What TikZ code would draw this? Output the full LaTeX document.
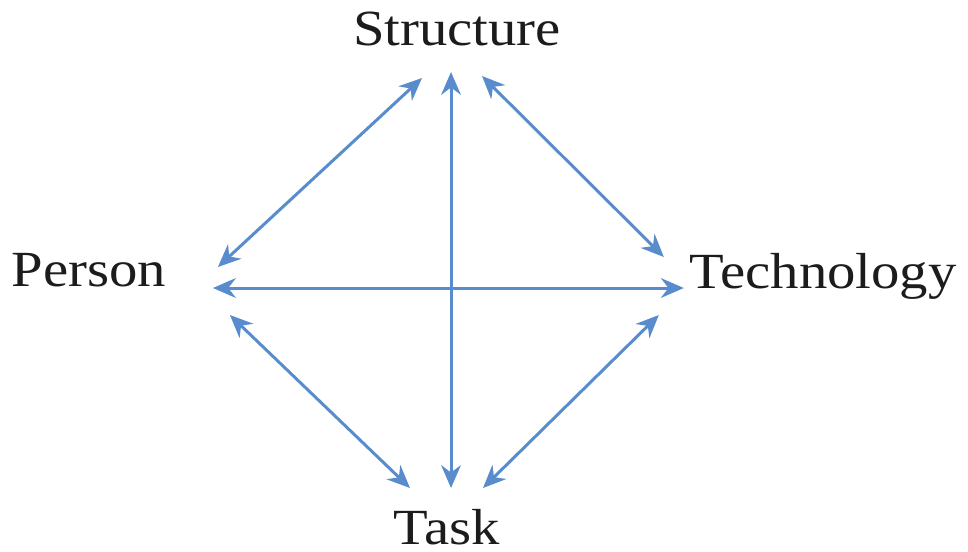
\documentclass[tikz,border=0pt]{standalone}
\usepackage{fontspec}
\setmainfont{Liberation Serif}[FakeStretch=1.12]
\usetikzlibrary{arrows.meta,calc,positioning}
\definecolor{linkblue}{RGB}{88,140,204}
\definecolor{labelgray}{RGB}{28,28,28}
\tikzset{
  label text/.style = {inner sep=0pt, anchor=base, text=labelgray,
                       font=\fontsize{14.4}{17}\selectfont},
  link/.style       = {{Stealth[length=6.5pt,width=5.6pt]}-{Stealth[length=6.5pt,width=5.6pt]},
                       line width=0.85pt, draw=linkblue},
}

\begin{document}
\begin{tikzpicture}[x=0.01cm,y=-0.01cm]
  \useasboundingbox (0,0) rectangle (968,551);

  % the four labels
  \node[label text] (structure)  at (457,45)  {Structure};
  \node[label text] (person)     at (89,286)  {Person};
  \node[label text] (technology) at (823,288) {Technology};
  \node[label text] (task)       at (447,544) {Task};

  % cross
  \draw[link] ($(structure.base)+(-6,27)$) -- ($(task.base)+(4,-56)$);
  \draw[link] ($(person.base east)+(46,2)$) -- ($(technology.base west)+(-5,0)$);

  % diamond
  \draw[link] ($(person.base east)+(51,-19)$) -- ($(structure.base)+(-35,33)$);
  \draw[link] ($(structure.base)+(25,31)$) -- ($(technology.base west)+(-25,-31)$);
  \draw[link] ($(person.base east)+(63,29)$) -- ($(task.base)+(-37,-56)$);
  \draw[link] ($(technology.base west)+(-30,27)$) -- ($(task.base)+(36,-56)$);
\end{tikzpicture}
\end{document}
